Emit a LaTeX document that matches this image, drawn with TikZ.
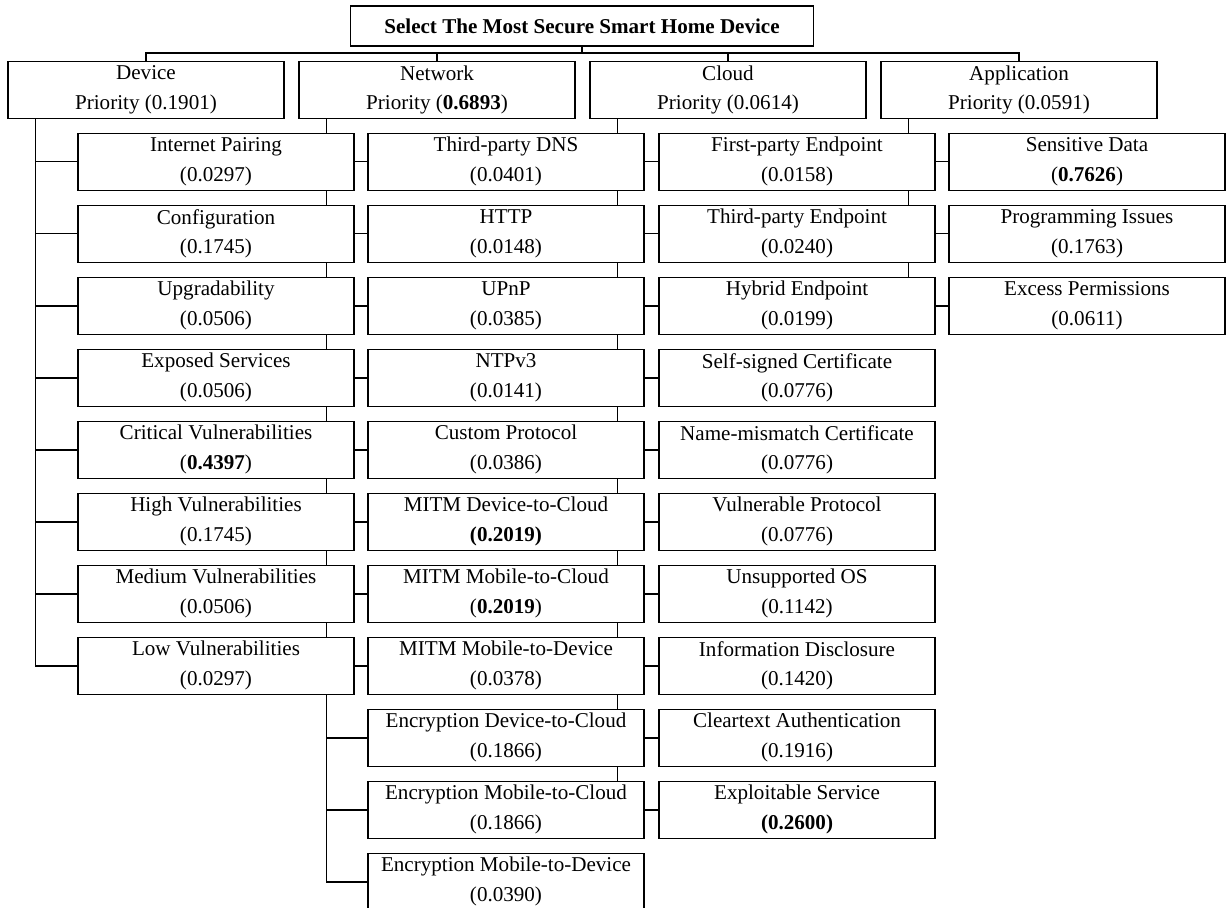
\documentclass[tikz,border=0pt]{standalone}
\usepackage{fontspec}
\setmainfont{Liberation Serif}
\usetikzlibrary{positioning, calc, backgrounds}

\begin{document}
\begin{tikzpicture}[x=0.02cm, y=-0.02cm,
    box/.style={draw, line width=0.75pt, fill=white, minimum width=5.52cm,
        minimum height=1.14cm, inner sep=0pt, align=center,
        font=\fontsize{12}{17}\selectfont},
    link/.style={line width=0.8pt}]

    \useasboundingbox (0,0) rectangle (1226,908);

    % Goal
    \node[draw, line width=0.75pt, minimum width=9.27cm, minimum height=0.8cm, inner sep=0pt,
        font=\fontsize{12}{14}\selectfont\bfseries] (goal) at (582,26)
        {Select The Most Secure Smart Home Device};

    % Criteria
    \node[box] (dev) at (146,90) {Device\\Priority (0.1901)};
    \node[box] (net) at (437,90) {Network\\Priority (\textbf{0.6893})};
    \node[box] (cld) at (728,90) {Cloud\\Priority (0.0614)};
    \node[box] (app) at (1019,90) {Application\\Priority (0.0591)};

    % Device sub-criteria
    \foreach \t/\v [count=\k] in {Internet Pairing/{(0.0297)}, Configuration/{(0.1745)},
        Upgradability/{(0.0506)}, Exposed Services/{(0.0506)},
        Critical Vulnerabilities/{(\textbf{0.4397})}, High Vulnerabilities/{(0.1745)},
        Medium Vulnerabilities/{(0.0506)}, Low Vulnerabilities/{(0.0297)}}
        \node[box] (d\k) at (216,{89.8+72*\k}) {\t\\\v};

    % Network sub-criteria
    \foreach \t/\v [count=\k] in {Third-party DNS/{(0.0401)}, HTTP/{(0.0148)},
        UPnP/{(0.0385)}, NTPv3/{(0.0141)}, Custom Protocol/{(0.0386)},
        MITM Device-to-Cloud/{\textbf{(0.2019)}}, MITM Mobile-to-Cloud/{(\textbf{0.2019})},
        MITM Mobile-to-Device/{(0.0378)}, Encryption Device-to-Cloud/{(0.1866)},
        Encryption Mobile-to-Cloud/{(0.1866)}, Encryption Mobile-to-Device/{(0.0390)}}
        \node[box] (n\k) at (506,{89.8+72*\k}) {\t\\\v};

    % Cloud sub-criteria
    \foreach \t/\v [count=\k] in {First-party Endpoint/{(0.0158)}, Third-party Endpoint/{(0.0240)},
        Hybrid Endpoint/{(0.0199)}, Self-signed Certificate/{(0.0776)},
        Name-mismatch Certificate/{(0.0776)}, Vulnerable Protocol/{(0.0776)},
        Unsupported OS/{(0.1142)}, Information Disclosure/{(0.1420)},
        Cleartext Authentication/{(0.1916)}, Exploitable Service/{\textbf{(0.2600)}}}
        \node[box] (c\k) at (797,{89.8+72*\k}) {\t\\\v};

    % Application sub-criteria
    \foreach \t/\v [count=\k] in {Sensitive Data/{(\textbf{0.7626})},
        Programming Issues/{(0.1763)}, Excess Permissions/{(0.0611)}}
        \node[box] (a\k) at (1087,{89.8+72*\k}) {\t\\\v};

    % Connectors (behind the boxes)
    \begin{scope}[on background layer]
        \coordinate (bus) at (582,53);
        \draw[link] (goal.south) -- (bus);
        \draw[link] (dev.north) |- (bus) -| (app.north);
        \draw[link] (net.north) -- (net.north |- bus);
        \draw[link] (cld.north) -- (cld.north |- bus);

        \foreach \k in {1,...,8}
            \draw[link] ($(dev.south west)+(28,0)$) |- (d\k.west);
        \foreach \k in {1,...,11}
            \draw[link] ($(net.south west)+(28,0)$) |- (n\k.west);
        \foreach \k in {1,...,10}
            \draw[link] ($(cld.south west)+(28,0)$) |- (c\k.west);
        \foreach \k in {1,...,3}
            \draw[link] ($(app.south west)+(28,0)$) |- (a\k.west);
    \end{scope}

\end{tikzpicture}
\end{document}
